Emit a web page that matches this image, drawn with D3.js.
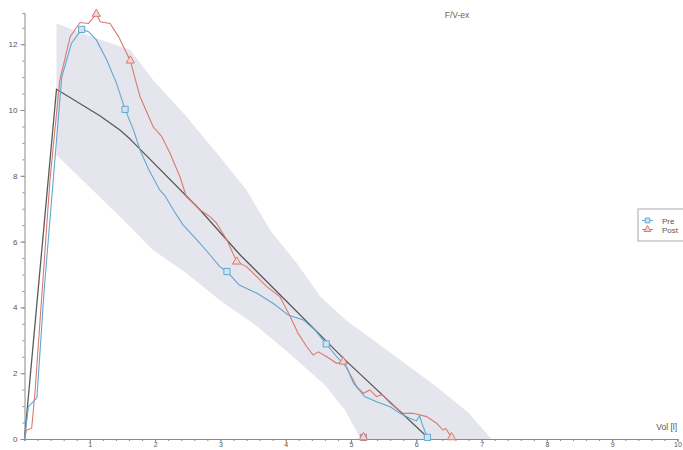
<!DOCTYPE html>
<html>
<head>
<meta charset="utf-8">
<script src="https://cdn.jsdelivr.net/npm/d3@7"></script>
<style>
  body { margin: 0; background: #fff; }
  svg { display: block; font-family: "Liberation Sans", Arial, sans-serif; }
</style>
</head>
<body>
<svg id="chart" width="683" height="450"></svg>
<script>
// Pre (blue) flow/volume curve
const preVol  = [0, 0.06, 0.19, 0.30, 0.44, 0.57, 0.72, 0.876, 0.98, 1.1, 1.26, 1.41, 1.54, 1.67, 1.77, 1.9, 2.07, 2.15, 2.28, 2.43, 2.64, 2.84, 2.99, 3.1, 3.29, 3.56, 3.81, 4.04, 4.27, 4.45, 4.62, 4.78, 4.93, 5.04, 5.21, 5.39, 5.6, 5.75, 5.9, 6.0, 6.05, 6.1, 6.17];
const preFlow = [0, 0.98, 1.25, 4.5, 7.87, 11.0, 12.03, 12.45, 12.38, 12.13, 11.52, 10.81, 10.02, 9.39, 8.78, 8.2, 7.57, 7.4, 6.96, 6.5, 6.05, 5.6, 5.24, 5.09, 4.68, 4.43, 4.12, 3.77, 3.62, 3.31, 2.89, 2.5, 2.2, 1.69, 1.29, 1.13, 0.98, 0.78, 0.63, 0.55, 0.7, 0.4, 0.05];

// Post (red) flow/volume curve
const postVol  = [0, 0.03, 0.11, 0.16, 0.39, 0.54, 0.70, 0.85, 0.98, 1.1, 1.16, 1.31, 1.44, 1.62, 1.77, 1.97, 2.1, 2.23, 2.38, 2.48, 2.6, 2.69, 2.84, 2.94, 3.1, 3.25, 3.4, 3.56, 3.71, 3.91, 4.07, 4.19, 4.32, 4.42, 4.5, 4.63, 4.78, 4.88, 5.09, 5.19, 5.29, 5.39, 5.48, 5.6, 5.8, 5.95, 6.16, 6.31, 6.41, 6.45, 6.54];
const postFlow = [0, 0.27, 0.33, 1.4, 7.87, 10.9, 12.23, 12.66, 12.63, 12.92, 12.68, 12.63, 12.23, 11.5, 10.4, 9.49, 9.2, 8.68, 7.97, 7.36, 7.15, 6.96, 6.76, 6.56, 6.05, 5.39, 5.24, 4.93, 4.63, 4.33, 3.72, 3.21, 2.81, 2.55, 2.65, 2.5, 2.3, 2.35, 1.59, 1.39, 1.49, 1.29, 1.35, 1.09, 0.78, 0.78, 0.68, 0.48, 0.27, 0.32, 0.05];

// predicted curve
const predVol  = [0, 0.49, 1.16, 1.46, 1.6, 1.75, 2.69, 3.3, 4.9, 6.2];
const predFlow = [0, 10.63, 9.82, 9.39, 9.15, 8.85, 6.96, 5.6, 2.42, 0];

// predicted range (shaded band)
const bandUpperVol  = [0.49, 1.0, 1.62, 1.97, 2.48, 2.99, 3.4, 3.76, 4.17, 4.53, 4.93, 5.45, 6.3, 6.8, 7.15];
const bandUpperFlow = [12.63, 12.25, 11.82, 10.91, 9.8, 8.58, 7.57, 6.35, 5.34, 4.33, 3.6, 2.85, 1.6, 0.8, 0];
const bandLowerVol  = [0.49, 1.46, 1.97, 2.48, 2.99, 3.5, 4.0, 4.6, 4.9, 5.15];
const bandLowerFlow = [8.63, 6.76, 5.74, 5.04, 4.22, 3.52, 2.7, 1.64, 0.9, 0];

// markers
const preMarkVol   = [0.876, 1.54, 3.1, 4.62, 6.17];
const preMarkFlow  = [12.45, 10.02, 5.09, 2.89, 0.05];
const postMarkVol  = [1.1, 1.62, 3.25, 4.88, 6.54, 5.19];
const postMarkFlow = [12.92, 11.5, 5.39, 2.35, 0.05, 0.05];
const extraSqVol   = [5.19];
const extraSqFlow  = [0.05];

const xTicks = [1, 2, 3, 4, 5, 6, 7, 8, 9, 10];
const yTicks = [0, 2, 4, 6, 8, 10, 12];
const seriesNames = ["Pre", "Post"];

const blue = "#5fa8cf", red = "#d97a72", predColor = "#5a5a5a", axisColor = "#8a8a8a";

const svg = d3.select("#chart");
const x = d3.scaleLinear().domain([0, 10]).range([24.5, 677.5]);
const y = d3.scaleLinear().domain([0, 13]).range([439, 439 - 13 * 32.9]);

const zip = (a, b) => a.map((v, i) => [v, b[i]]);
const line = d3.line().x(d => x(d[0])).y(d => y(d[1]));

// band
const band = zip(bandUpperVol, bandUpperFlow).concat(zip(bandLowerVol, bandLowerFlow).reverse());
svg.append("path")
   .attr("d", line(band) + "Z")
   .attr("fill", "#e5e5ed");

// title
svg.append("text")
   .attr("x", 457).attr("y", 18)
   .attr("text-anchor", "middle")
   .attr("font-size", 8.5)
   .attr("fill", "#666")
   .text("F/V-ex");

// axes
const g = svg.append("g");
g.append("g")
 .attr("transform", `translate(0,${y(0)})`)
 .call(d3.axisBottom(x).tickValues(d3.range(0, 10.01, 0.2)).tickSize(2).tickFormat(""))
 .call(a => a.select(".domain").attr("stroke", axisColor))
 .call(a => a.selectAll(".tick line").attr("stroke", axisColor));
g.append("g")
 .attr("transform", `translate(0,${y(0)})`)
 .call(d3.axisBottom(x).tickValues(xTicks).tickSize(3).tickPadding(1))
 .call(a => a.select(".domain").remove())
 .call(a => a.selectAll(".tick line").attr("stroke", axisColor))
 .call(a => a.selectAll("text").attr("fill", "#555").attr("font-size", 7).attr("dy", "0.6em").attr("font-family", "Liberation Sans"));

const yAxisScale = y.copy().domain([0, 12.95]).range([y(0), y(12.95)]);
g.append("g")
 .attr("transform", `translate(${x(0)},0)`)
 .call(d3.axisLeft(yAxisScale).tickValues(d3.range(0, 12.95, 0.5)).tickSize(2).tickFormat(""))
 .call(a => a.select(".domain").attr("stroke", axisColor))
 .call(a => a.selectAll(".tick line").attr("stroke", axisColor));
g.append("g")
 .attr("transform", `translate(${x(0)},0)`)
 .call(d3.axisLeft(y).tickValues(yTicks).tickSize(4).tickPadding(3))
 .call(a => a.select(".domain").remove())
 .call(a => a.selectAll(".tick line").attr("stroke", axisColor))
 .call(a => a.selectAll("text").attr("fill", "#555").attr("font-size", 8).attr("font-family", "Liberation Sans"));

svg.append("text")
   .attr("x", 677).attr("y", 430)
   .attr("text-anchor", "end")
   .attr("font-size", 8.5)
   .attr("fill", "#555")
   .text("Vol [l]");

// predicted
svg.append("path")
   .attr("d", line(zip(predVol, predFlow)))
   .attr("fill", "none").attr("stroke", predColor).attr("stroke-width", 1.3);

// curves
svg.append("path")
   .attr("d", line(zip(postVol, postFlow)))
   .attr("fill", "none").attr("stroke", red).attr("stroke-width", 1.1);
svg.append("path")
   .attr("d", line(zip(preVol, preFlow)))
   .attr("fill", "none").attr("stroke", blue).attr("stroke-width", 1.1);

const tri = d3.symbol().type(d3.symbolTriangle).size(30);
const sq = d3.symbol().type(d3.symbolSquare).size(38);

svg.selectAll(".sqx").data(zip(extraSqVol, extraSqFlow)).enter().append("path")
   .attr("transform", d => `translate(${x(d[0])},${y(d[1])})`)
   .attr("d", sq).attr("fill", "#e9d6e6").attr("stroke", "#9a8bb0").attr("stroke-width", 1);
svg.selectAll(".sq").data(zip(preMarkVol, preMarkFlow)).enter().append("path")
   .attr("transform", d => `translate(${x(d[0])},${y(d[1])})`)
   .attr("d", sq).attr("fill", "#cfe4f0").attr("stroke", blue).attr("stroke-width", 1);
svg.selectAll(".tri").data(zip(postMarkVol, postMarkFlow)).enter().append("path")
   .attr("transform", d => `translate(${x(d[0])},${y(d[1])})`)
   .attr("d", tri).attr("fill", "#f3d6d2").attr("stroke", red).attr("stroke-width", 1);

// legend (shifted a little so "Post" stays inside the frame)
const lg = svg.append("g").attr("transform", "translate(638,209)");
lg.append("rect").attr("width", 50).attr("height", 32)
  .attr("fill", "#fff").attr("stroke", "#aaa");
[blue, red].forEach((c, i) => {
  const yy = 11.5 + i * 9;
  lg.append("line").attr("x1", 4).attr("x2", 15).attr("y1", yy).attr("y2", yy).attr("stroke", c);
  lg.append("path").attr("transform", `translate(9.5,${yy})`)
    .attr("d", i === 0 ? d3.symbol().type(d3.symbolSquare).size(22)() : d3.symbol().type(d3.symbolTriangle).size(20)())
    .attr("fill", i === 0 ? "#cfe4f0" : "#f3d6d2").attr("stroke", c);
  lg.append("text").attr("x", 24).attr("y", yy + 3).attr("font-size", 8).attr("fill", "#555").text(seriesNames[i]);
});
</script>
</body>
</html>
